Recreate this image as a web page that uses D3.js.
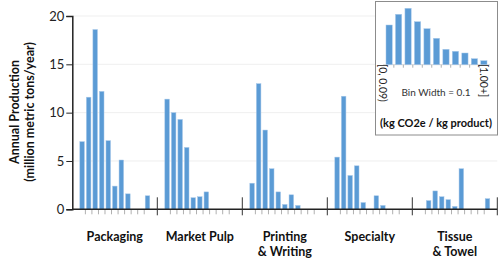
<!DOCTYPE html>
<html>
<head>
<meta charset="utf-8">
<script src="https://cdn.jsdelivr.net/npm/d3@7"></script>
<style>
  body { margin: 0; background: #fff; }
  svg { display: block; font-family: Lato, "Open Sans", sans-serif; }
</style>
</head>
<body>
<svg width="500" height="268"></svg>
<script>
// sectors along the x axis
var sectors = ["Packaging", "Market Pulp", "Printing\n& Writing", "Specialty", "Tissue\n& Towel"];
// 11 bins of kg CO2e / kg product, width 0.1
var bins = ["0.0", "0.1", "0.2", "0.3", "0.4", "0.5", "0.6", "0.7", "0.8", "0.9", "1.0+"];

// annual production per bin, million metric tons/year
var packaging   = [7.0, 11.6, 18.6, 12.2, 7.1, 2.4, 5.1, 1.6, 0, 0, 1.4];
var marketPulp  = [11.4, 10.0, 9.3, 6.4, 1.2, 1.3, 1.8, 0, 0, 0, 0];
var printing    = [2.7, 13.0, 8.2, 4.2, 1.8, 0.5, 1.5, 0.4, 0, 0, 0];
var specialty   = [5.4, 11.7, 3.5, 4.5, 0.7, 0, 1.4, 0.4, 0, 0, 0];
var tissue      = [0, 0.9, 1.9, 1.3, 1.0, 0.3, 4.2, 0, 0, 0, 1.1];

var yTicks = [0, 5, 10, 15, 20];

// inset: overall distribution (relative heights, no axis)
var insetValues = [39.7, 50.4, 56.4, 43, 36, 26.4, 15.4, 13.4, 11.7, 6, 4];
var insetLabels = ["[0, 0.09)", "[1.00+]"];

var series = [packaging, marketPulp, printing, specialty, tissue];

var svg = d3.select("svg");
var blue = "#5b9bd5", blueEdge = "#a9c9ea";

var x0 = d3.scaleBand().domain(sectors).range([72.3, 497.3]).padding(0);
var x1 = d3.scaleBand().domain(bins).range([0, x0.bandwidth()])
    .paddingInner(0.3).paddingOuter(1.15);
var y = d3.scaleLinear().domain([0, 20]).range([209.3, 16]);

// gridlines
svg.append("g")
    .selectAll("line")
    .data(yTicks.slice(1))
    .enter().append("line")
    .attr("x1", 72.3).attr("x2", 497.3)
    .attr("y1", function(d) { return y(d); })
    .attr("y2", function(d) { return y(d); })
    .attr("stroke", "#efefef")
    .attr("stroke-width", 1);

// bars
var groups = svg.append("g")
    .selectAll("g")
    .data(series)
    .enter().append("g")
    .attr("transform", function(d, i) { return "translate(" + x0(sectors[i]) + ",0)"; });

groups.selectAll("rect")
    .data(function(d) { return d.map(function(v, j) { return { bin: bins[j], value: v }; }); })
    .enter().filter(function(d) { return d.value > 0; })
    .append("rect")
    .attr("x", function(d) { return x1(d.bin); })
    .attr("width", x1.bandwidth())
    .attr("y", function(d) { return y(d.value); })
    .attr("height", function(d) { return y(0) - y(d.value); })
    .attr("fill", blue)
    .attr("stroke", blueEdge)
    .attr("stroke-width", 0.5);

// minor ticks between bins
var gap = x1.step() - x1.bandwidth();
groups.selectAll(".minor")
    .data(bins.slice(1))
    .enter().append("line")
    .attr("class", "minor")
    .attr("x1", function(d) { return x1(d) - gap / 2; })
    .attr("x2", function(d) { return x1(d) - gap / 2; })
    .attr("y1", y(0)).attr("y2", y(0) + 5)
    .attr("stroke", "#b0b0b0")
    .attr("stroke-width", 1);

// y axis
var yAxis = svg.append("g")
    .attr("transform", "translate(72.3,0)")
    .call(d3.axisLeft(y).tickValues(yTicks).tickSize(6).tickPadding(2));
yAxis.select(".domain").attr("stroke", "#222").attr("stroke-width", 1.5);
yAxis.selectAll(".tick line").attr("stroke", "#222");
yAxis.selectAll("text")
    .attr("fill", "#222")
    .style("font-size", "13px")
    .style("font-family", "Lato, sans-serif");

// x axis line and group separators
svg.append("line")
    .attr("x1", 72.3).attr("x2", 497.3)
    .attr("y1", y(0)).attr("y2", y(0))
    .attr("stroke", "#222").attr("stroke-width", 1.5);

svg.append("g")
    .selectAll("line")
    .data(sectors.slice(1).concat(["end"]))
    .enter().append("line")
    .attr("x1", function(d, i) { return x0.range()[0] + (i + 1) * x0.step(); })
    .attr("x2", function(d, i) { return x0.range()[0] + (i + 1) * x0.step(); })
    .attr("y1", y(0) - 12).attr("y2", y(0) + 6)
    .attr("stroke", "#333").attr("stroke-width", 1);

// category labels
svg.append("g")
    .selectAll("text")
    .data(sectors)
    .enter().append("text")
    .attr("x", function(d) { return x0(d) + x0.bandwidth() / 2; })
    .attr("y", 241)
    .attr("text-anchor", "middle")
    .style("font-size", "12.5px")
    .style("font-weight", "bold")
    .attr("fill", "#111")
    .each(function(d) {
        var lines = d.split("\n");
        var t = d3.select(this);
        lines.forEach(function(l, k) {
            t.append("tspan")
                .attr("x", t.attr("x"))
                .attr("dy", k === 0 ? 0 : 15)
                .text(l);
        });
    });

// y axis title
var yTitle = svg.append("text")
    .attr("transform", "translate(19,112) rotate(-90)")
    .attr("text-anchor", "middle")
    .style("font-size", "12.5px")
    .style("font-weight", "bold")
    .attr("fill", "#111");
yTitle.append("tspan").attr("x", 0).attr("dy", 0).text("Annual Production");
yTitle.append("tspan").attr("x", 0).attr("dy", 15).text("(million metric tons/year)");

// inset
var inset = svg.append("g");
inset.append("rect")
    .attr("x", 375.5).attr("y", 1.5)
    .attr("width", 122).attr("height", 133.5)
    .attr("fill", "#fff")
    .attr("stroke", "#8c8c8c")
    .attr("stroke-width", 1);

var ix = d3.scaleBand().domain(bins).range([383.15, 489.85])
    .paddingInner(0.34).paddingOuter(0.3);
var iy = d3.scaleLinear().domain([0, 60]).range([64.7, 4.7]);

inset.append("line")
    .attr("x1", ix.range()[0]).attr("x2", ix.range()[1])
    .attr("y1", iy(0)).attr("y2", iy(0))
    .attr("stroke", "#d9d9d9");

inset.selectAll(".ibar")
    .data(insetValues)
    .enter().append("rect")
    .attr("class", "ibar")
    .attr("x", function(d, i) { return ix(bins[i]); })
    .attr("width", ix.bandwidth())
    .attr("y", function(d) { return iy(d); })
    .attr("height", function(d) { return iy(0) - iy(d); })
    .attr("fill", blue)
    .attr("stroke", blueEdge)
    .attr("stroke-width", 0.5);

var igap = ix.step() - ix.bandwidth();
inset.selectAll(".itick")
    .data(bins.slice(1))
    .enter().append("line")
    .attr("class", "itick")
    .attr("x1", function(d) { return ix(d) - igap / 2; })
    .attr("x2", function(d) { return ix(d) - igap / 2; })
    .attr("y1", iy(0)).attr("y2", iy(0) + 3)
    .attr("stroke", "#b0b0b0");

// rotated end labels
inset.append("text")
    .attr("transform", "translate(" + (ix(bins[0]) - 3) + ",64) rotate(90)")
    .attr("dy", "0.35em")
    .style("font-size", "10.5px")
    .attr("fill", "#222")
    .text(insetLabels[0]);
inset.append("text")
    .attr("transform", "translate(" + (ix(bins[10]) + ix.bandwidth() / 2) + ",64) rotate(90)")
    .attr("dy", "0.35em")
    .style("font-size", "10.5px")
    .attr("fill", "#222")
    .text(insetLabels[1]);

inset.append("text")
    .attr("x", 436).attr("y", 96)
    .attr("text-anchor", "middle")
    .style("font-size", "10px")
    .attr("fill", "#333")
    .text("Bin Width = 0.1");

inset.append("text")
    .attr("x", 436).attr("y", 127)
    .attr("text-anchor", "middle")
    .style("font-size", "11px")
    .style("font-weight", "bold")
    .attr("fill", "#111")
    .text("(kg CO2e / kg product)");
</script>
</body>
</html>
